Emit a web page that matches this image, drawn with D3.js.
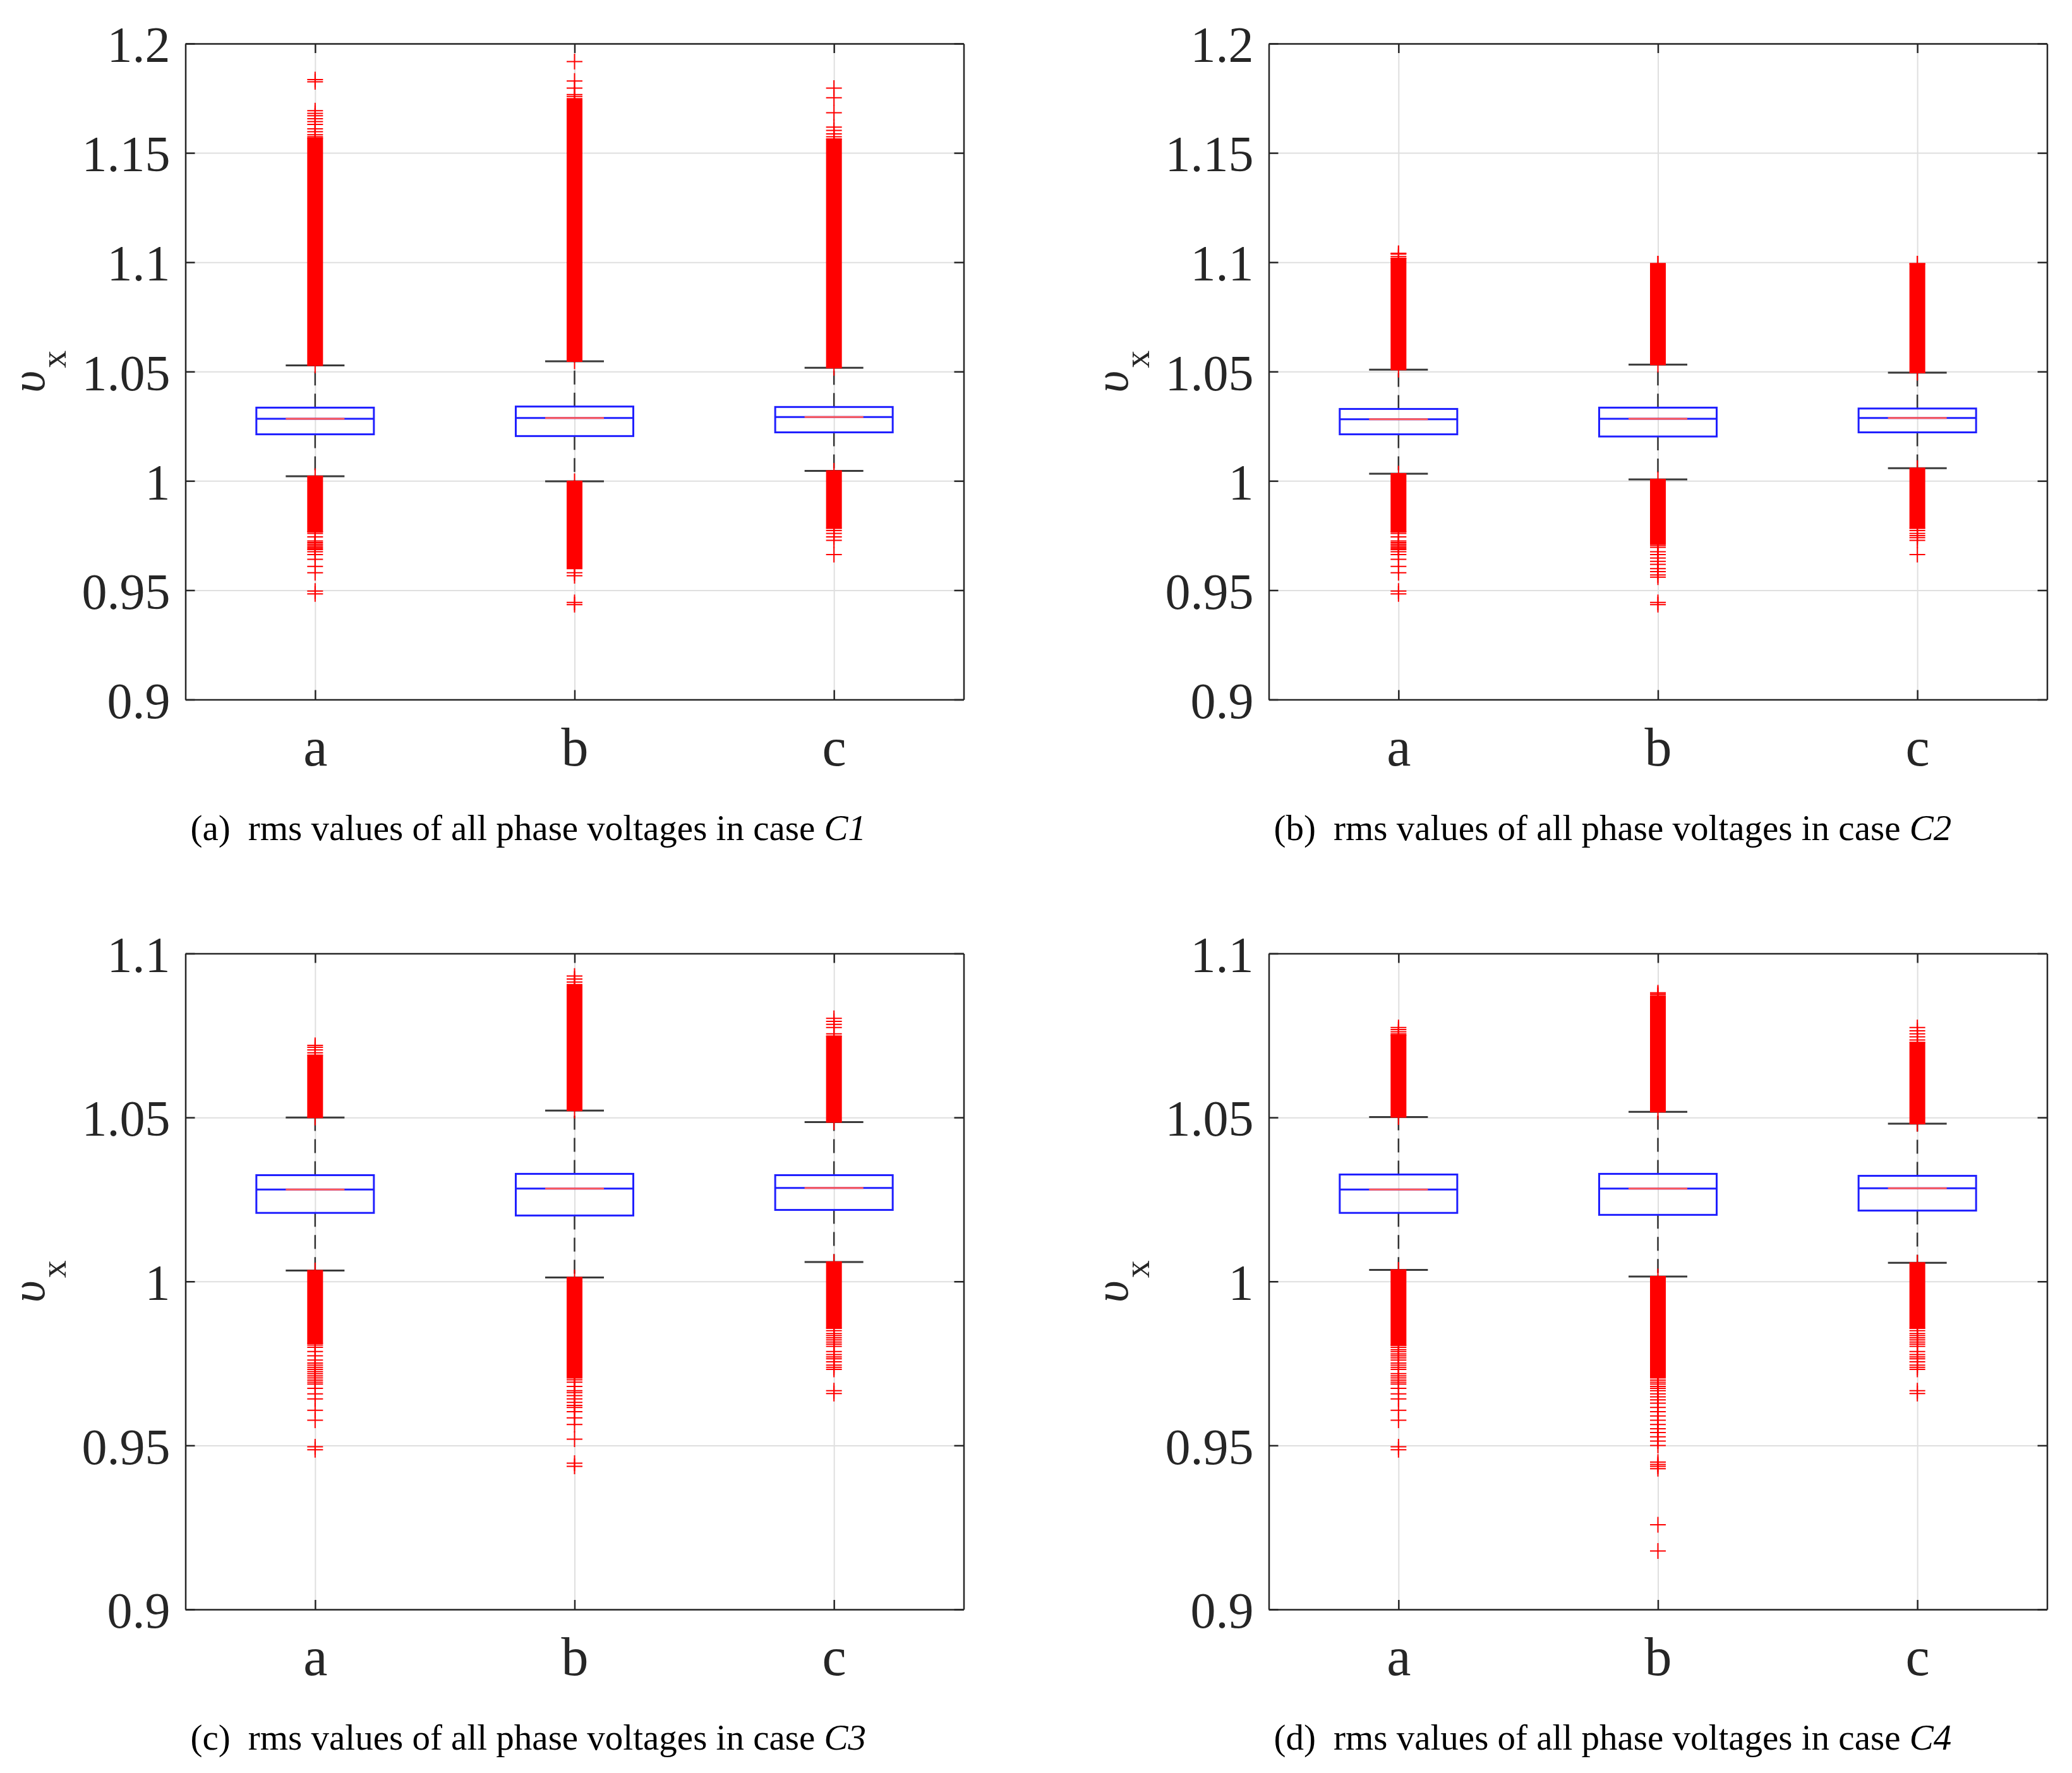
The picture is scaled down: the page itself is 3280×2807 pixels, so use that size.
<!DOCTYPE html>
<html>
<head>
<meta charset="utf-8">
<script src="https://cdn.jsdelivr.net/npm/d3@7"></script>
<style>
body { margin: 0; background: #fff; }
</style>
</head>
<body>
<svg id="drawing_region"></svg>
<script>
// phases on the x axis, one panel per case
const phases = ['a', 'b', 'c'];
const panelLetters = ['a', 'b', 'c', 'd'];
const caseNames = ['C1', 'C2', 'C3', 'C4'];
const yTickSets = [
    [0.9, 0.95, 1, 1.05, 1.1, 1.15, 1.2],
    [0.9, 0.95, 1, 1.05, 1.1, 1.15, 1.2],
    [0.9, 0.95, 1, 1.05, 1.1],
    [0.9, 0.95, 1, 1.05, 1.1]
];

// [lower whisker, q1, median, q3, upper whisker] for each case and phase
const boxStats = [
    [[1.0021, 1.0213, 1.0284, 1.0335, 1.0528], [0.9998, 1.0205, 1.0288, 1.0340, 1.0547], [1.0046, 1.0222, 1.0292, 1.0338, 1.0517]],
    [[1.0033, 1.0213, 1.0282, 1.0329, 1.0509], [1.0007, 1.0203, 1.0284, 1.0335, 1.0532], [1.0058, 1.0222, 1.0288, 1.0331, 1.0495]],
    [[1.0033, 1.0209, 1.0280, 1.0324, 1.0500], [1.0012, 1.0201, 1.0283, 1.0328, 1.0521], [1.0059, 1.0218, 1.0285, 1.0324, 1.0486]],
    [[1.0035, 1.0209, 1.0280, 1.0326, 1.0501], [1.0015, 1.0203, 1.0283, 1.0328, 1.0517], [1.0057, 1.0216, 1.0284, 1.0322, 1.0481]]
];

// ranges packed so densely with outliers that they merge into a bar
const upperBands = [
    [[1.0528, 1.1568], [1.0547, 1.1748], [1.0517, 1.1564]],
    [[1.0509, 1.1018], [1.0532, 1.0993], [1.0495, 1.0993]],
    [[1.0500, 1.0690], [1.0521, 1.0905], [1.0486, 1.0748]],
    [[1.0501, 1.0751], [1.0517, 1.0871], [1.0481, 1.0729]]
];
const lowerBands = [
    [[0.9767, 1.0021], [0.9599, 0.9998], [0.9783, 1.0046]],
    [[0.9767, 1.0033], [0.9711, 1.0007], [0.9783, 1.0058]],
    [[0.9811, 1.0033], [0.9706, 1.0012], [0.9857, 1.0059]],
    [[0.9805, 1.0035], [0.9706, 1.0015], [0.9857, 1.0057]]
];

// separate outliers
const upperOutliers = [
    [[1.1574, 1.1583, 1.1597, 1.1610, 1.1630, 1.1643, 1.1656, 1.1670, 1.1681, 1.1693, 1.1825, 1.1835],
     [1.1758, 1.1767, 1.1796, 1.1829, 1.1918],
     [1.1574, 1.1587, 1.1603, 1.1618, 1.1684, 1.1752, 1.1796]],
    [[1.1026, 1.1037, 1.1041], [1.0993], [1.0993]],
    [[1.0697, 1.0706, 1.0714, 1.0720], [1.0913, 1.0922, 1.0931], [1.0755, 1.0774, 1.0784, 1.0793, 1.0802]],
    [[1.0755, 1.0761, 1.0768, 1.0774], [1.0876, 1.0880], [1.0736, 1.0746, 1.0755, 1.0764, 1.0774]]
];
const lowerOutliers = [
    [[0.9760, 0.9744, 0.9725, 0.9718, 0.9711, 0.9705, 0.9698, 0.9691, 0.9686, 0.9676, 0.9663, 0.9641, 0.9609, 0.9580, 0.9496, 0.9483],
     [0.9665, 0.9580, 0.9566, 0.9444, 0.9434],
     [0.9773, 0.9760, 0.9744, 0.9728, 0.9663]],
    [[0.9760, 0.9744, 0.9725, 0.9718, 0.9711, 0.9705, 0.9698, 0.9691, 0.9686, 0.9676, 0.9663, 0.9641, 0.9609, 0.9580, 0.9496, 0.9483],
     [0.9705, 0.9696, 0.9676, 0.9663, 0.9647, 0.9632, 0.9618, 0.9599, 0.9585, 0.9570, 0.9560, 0.9444, 0.9434],
     [0.9773, 0.9760, 0.9750, 0.9740, 0.9728, 0.9663]],
    [[0.9806, 0.9799, 0.9786, 0.9773, 0.9760, 0.9751, 0.9745, 0.9738, 0.9732, 0.9725, 0.9719, 0.9712, 0.9706, 0.9699, 0.9693, 0.9687, 0.9674, 0.9657, 0.9642, 0.9607, 0.9577, 0.9496, 0.9487],
     [0.9700, 0.9693, 0.9680, 0.9667, 0.9661, 0.9652, 0.9642, 0.9631, 0.9622, 0.9616, 0.9603, 0.9584, 0.9564, 0.9519, 0.9446, 0.9436],
     [0.9850, 0.9841, 0.9835, 0.9828, 0.9822, 0.9815, 0.9809, 0.9802, 0.9786, 0.9777, 0.9770, 0.9764, 0.9755, 0.9745, 0.9738, 0.9732, 0.9667, 0.9658]],
    [[0.9799, 0.9792, 0.9786, 0.9779, 0.9773, 0.9767, 0.9760, 0.9751, 0.9745, 0.9738, 0.9732, 0.9719, 0.9712, 0.9706, 0.9699, 0.9693, 0.9687, 0.9674, 0.9657, 0.9642, 0.9607, 0.9577, 0.9496, 0.9487],
     [0.9699, 0.9693, 0.9687, 0.9680, 0.9674, 0.9667, 0.9657, 0.9648, 0.9639, 0.9629, 0.9616, 0.9603, 0.9590, 0.9577, 0.9564, 0.9551, 0.9539, 0.9526, 0.9513, 0.9500, 0.9449, 0.9442, 0.9436, 0.9429, 0.9258, 0.9178],
     [0.9850, 0.9841, 0.9835, 0.9828, 0.9822, 0.9815, 0.9809, 0.9802, 0.9786, 0.9777, 0.9770, 0.9764, 0.9755, 0.9745, 0.9738, 0.9732, 0.9667, 0.9658]]
];

const config = {
    width: 3280,
    height: 2807,
    plotW: 1232,
    plotH: 1038.5,
    lefts: [293.5, 2008.5, 293.5, 2008.5],
    tops: [69, 69, 1509.5, 1509.5]
};

const svg = d3.select('#drawing_region')
    .attr('width', config.width)
    .attr('height', config.height)
    .style('background', '#fff');

const serif = "'Liberation Serif', 'Times New Roman', serif";
const plusPath = 'M-12.5,0H12.5M0,-12.5V12.5';

panelLetters.forEach((letter, i) => drawPanel(i));

function drawPanel(i) {
    const W = config.plotW, H = config.plotH;
    const g = svg.append('g')
        .attr('transform', `translate(${config.lefts[i]},${config.tops[i]})`);

    const ticks = yTickSets[i];
    const yscale = d3.scaleLinear()
        .domain([ticks[0], ticks[ticks.length - 1]])
        .range([H, 0]);
    const xscale = d3.scalePoint()
        .domain(phases)
        .range([0, W])
        .padding(0.5);
    const boxW = xscale.step() * 0.453;
    const fmt = d => String(+d.toFixed(2));

    // grid
    g.append('g')
        .call(d3.axisLeft(yscale).tickValues(ticks).tickSize(-W).tickFormat(''))
        .call(a => a.select('.domain').remove())
        .selectAll('line').attr('stroke', '#dfdfdf').attr('stroke-width', 2);
    g.append('g')
        .attr('transform', `translate(0,${H})`)
        .call(d3.axisBottom(xscale).tickSize(H).tickFormat(''))
        .call(a => a.select('.domain').remove())
        .selectAll('line').attr('y2', -H).attr('stroke', '#dfdfdf').attr('stroke-width', 2);

    phases.forEach((ph, j) => {
        const [lw, q1, med, q3, uw] = boxStats[i][j];
        const cx = xscale(ph);
        const cg = g.append('g');

        // whiskers
        cg.selectAll('line.whisk')
            .data([[q3, uw], [q1, lw]])
            .join('line')
            .attr('x1', cx).attr('x2', cx)
            .attr('y1', d => yscale(d[0])).attr('y2', d => yscale(d[1]))
            .attr('stroke', '#333').attr('stroke-width', 2.5)
            .attr('stroke-dasharray', '22,13');
        cg.selectAll('line.cap')
            .data([lw, uw])
            .join('line')
            .attr('x1', cx - boxW / 4).attr('x2', cx + boxW / 4)
            .attr('y1', d => yscale(d)).attr('y2', d => yscale(d))
            .attr('stroke', '#3a3a3a').attr('stroke-width', 3);

        // box
        cg.append('rect')
            .attr('x', cx - boxW / 2).attr('width', boxW)
            .attr('y', yscale(q3)).attr('height', yscale(q1) - yscale(q3))
            .attr('fill', 'none').attr('stroke', '#1f1fff').attr('stroke-width', 3);
        cg.append('line')
            .attr('x1', cx - boxW / 2).attr('x2', cx + boxW / 2)
            .attr('y1', yscale(med)).attr('y2', yscale(med))
            .attr('stroke', '#1f1fff').attr('stroke-width', 3);
        cg.append('line')
            .attr('x1', cx - boxW / 4).attr('x2', cx + boxW / 4)
            .attr('y1', yscale(med)).attr('y2', yscale(med))
            .attr('stroke', '#ff5a5a').attr('stroke-width', 3);

        // outliers
        const bands = [upperBands[i][j], lowerBands[i][j]];
        cg.selectAll('rect.band')
            .data(bands)
            .join('rect')
            .attr('x', cx - 12.5).attr('width', 25)
            .attr('y', d => yscale(d[1]))
            .attr('height', d => yscale(d[0]) - yscale(d[1]))
            .attr('fill', '#ff0000');
        const pts = [].concat(
            bands[0], bands[1],
            upperOutliers[i][j], lowerOutliers[i][j]);
        cg.selectAll('path.out')
            .data(pts)
            .join('path')
            .attr('d', plusPath)
            .attr('transform', d => `translate(${cx},${yscale(d)})`)
            .attr('fill', 'none')
            .attr('stroke', '#ff0000').attr('stroke-width', 2);
    });

    // axes box with inward ticks
    const axisStyle = a => {
        a.select('.domain').attr('stroke', '#262626').attr('stroke-width', 2.5);
        a.selectAll('.tick line').attr('stroke', '#262626').attr('stroke-width', 2.5);
    };
    const yaxis = g.append('g')
        .call(d3.axisLeft(yscale).tickValues(ticks).tickSize(-15).tickSizeOuter(0)
            .tickPadding(24).tickFormat(fmt))
        .call(axisStyle);
    yaxis.attr('font-family', serif);
    yaxis.selectAll('text')
        .attr('font-family', serif).attr('font-size', 80)
        .attr('fill', '#262626').attr('dy', '0.36em');

    g.append('g')
        .attr('transform', `translate(${W},0)`)
        .call(d3.axisRight(yscale).tickValues(ticks).tickSize(-15).tickSizeOuter(0).tickFormat(''))
        .call(axisStyle);

    const xaxis = g.append('g')
        .attr('transform', `translate(0,${H})`)
        .call(d3.axisBottom(xscale).tickSize(-15).tickSizeOuter(0).tickPadding(43))
        .call(axisStyle);
    xaxis.attr('font-family', serif);
    xaxis.selectAll('text')
        .attr('font-family', serif).attr('font-size', 86)
        .attr('fill', '#262626');

    g.append('g')
        .call(d3.axisTop(xscale).tickSize(-15).tickSizeOuter(0).tickFormat(''))
        .call(axisStyle);

    // y label: italic upsilon with subscript x
    const ylab = g.append('text')
        .attr('transform', `translate(-224,${H / 2}) rotate(-90)`)
        .attr('text-anchor', 'middle')
        .attr('font-family', serif)
        .attr('fill', '#262626');
    ylab.append('tspan')
        .attr('font-style', 'italic').attr('font-size', 76)
        .text('\u03c5');
    ylab.append('tspan')
        .attr('font-size', 56).attr('dy', 34).attr('dx', 4)
        .text('x');

    // caption
    const cap = g.append('text')
        .attr('x', 8).attr('y', H + 222)
        .attr('font-family', serif).attr('font-size', 57)
        .attr('fill', '#000');
    cap.append('tspan').text(`(${panelLetters[i]})`);
    cap.append('tspan').attr('dx', 28).text('rms values of all phase voltages in case ');
    cap.append('tspan').attr('font-style', 'italic').text(caseNames[i]);
}
</script>
</body>
</html>
